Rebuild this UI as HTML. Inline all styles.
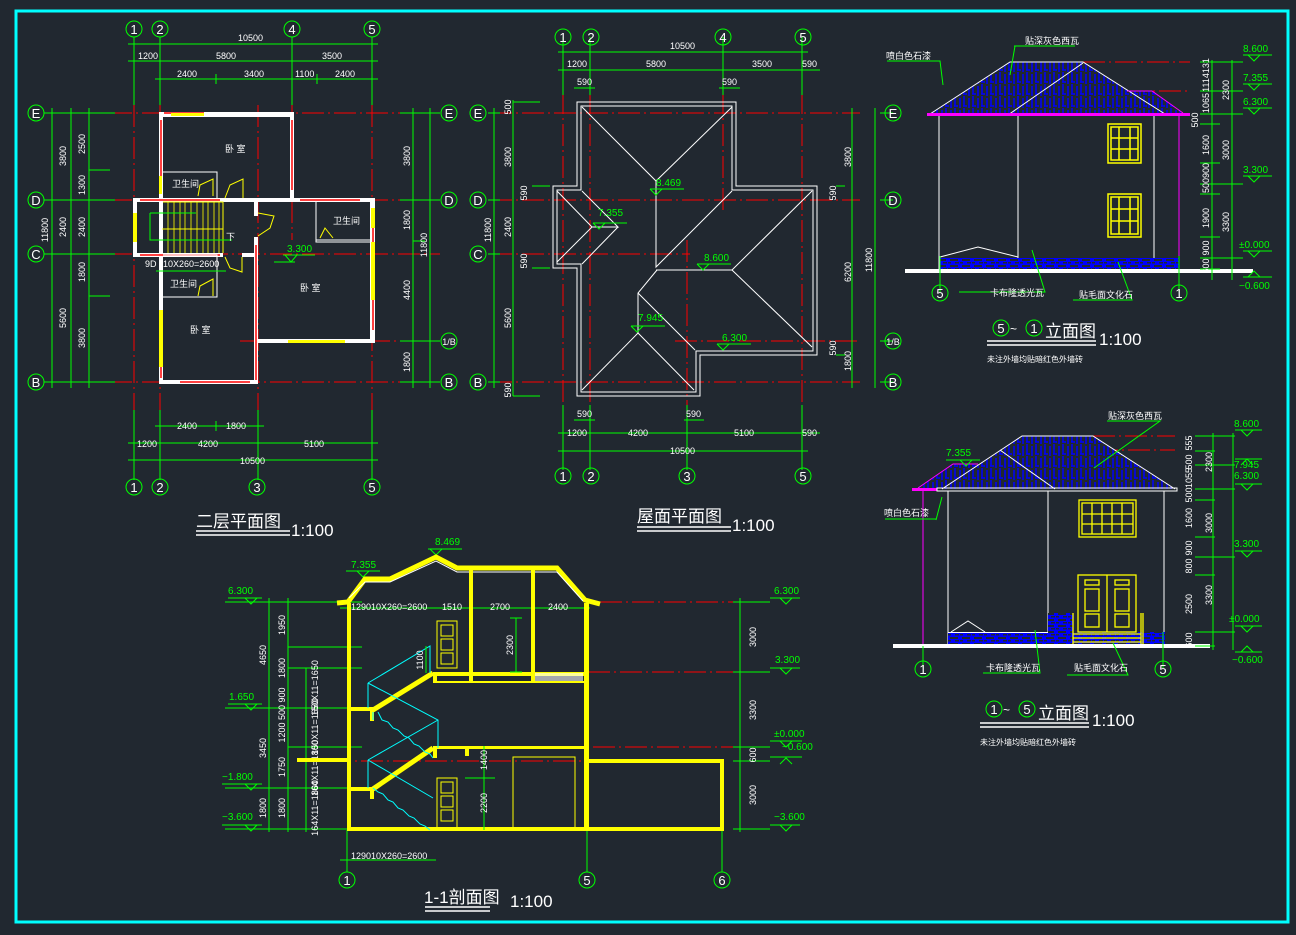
<!DOCTYPE html>
<html><head><meta charset="utf-8"><style>
html,body{margin:0;padding:0;background:#212830;}
svg{display:block}
text{font-family:"Liberation Sans","Noto Sans CJK SC",sans-serif;}
.g{stroke:#00ff00;stroke-width:1;fill:none}
.r{stroke:#ff0000;stroke-width:1;fill:none;stroke-dasharray:22 4 2 4}
.w{stroke:#fff;fill:none;stroke-width:1}
.ww{stroke:#fff;fill:#212830;stroke-width:1}
.y{stroke:#ffff00;fill:none}
.c{stroke:#00ffff;fill:none;stroke-width:1}
.t{fill:#fff;font-size:9px}
.tg{fill:#00ff00;font-size:10px}
.ax{fill:#fff;font-size:13px;text-anchor:middle;font-family:"Liberation Serif",serif}
</style></head><body>
<svg width="1296" height="935" viewBox="0 0 1296 935" xmlns="http://www.w3.org/2000/svg">
<defs>
<pattern id="tile" width="9" height="12" patternUnits="userSpaceOnUse"><rect width="9" height="12" fill="#212830"/><path d="M1 0V10M6 2V12M0 10H4" stroke="#0000ff" stroke-width="1.5"/></pattern>
<pattern id="brick" width="12" height="6" patternUnits="userSpaceOnUse"><rect width="12" height="6" fill="#0000ff"/><rect x="2" y="1" width="8" height="2" fill="#212830"/><rect x="0" y="4" width="3" height="1.5" fill="#212830"/><rect x="7" y="4" width="4" height="1.5" fill="#212830"/></pattern>
</defs>
<rect x="16" y="11" width="1272" height="911" fill="none" stroke="#00ffff" stroke-width="3"/>

<!-- ============ PLAN 1 (二层平面图) ============ -->
<g>
<!-- axes -->
<path class="r" d="M134 105V470M160 105V470M258 105V470M292 105V240M372 105V470"/>
<path class="r" d="M46 113H440M46 200H440M46 254H440M240 341H440M46 382H440"/>
<path class="g" d="M134 37V105M160 37V105M292 37V105M372 37V105M134 410V480M160 410V480M258 410V480M372 410V480"/>
<path class="g" d="M128 44H378M128 61H378M155 79H378M155 426H264M128 443H378M128 460H378"/>
<path class="g" d="M44 113H115M44 200H115M44 254H115M44 382H115M400 113H440M400 200H440M400 341H440M400 382H440"/>
<path class="g" d="M52 108V388M71 108V388M89 108V388M413 108V388M430 108V388"/>
<path class="g" d="M216 74V84M317 74V84M216 421V431M89 170H110M89 296H110M413 241H425"/>
<g class="tg" fill="#00ff00"></g>
<g class="t">
<text x="238" y="41">10500</text><text x="138" y="59">1200</text><text x="216" y="59">5800</text><text x="322" y="59">3500</text>
<text x="177" y="77">2400</text><text x="244" y="77">3400</text><text x="295" y="77">1100</text><text x="335" y="77">2400</text>
<text x="177" y="429">2400</text><text x="226" y="429">1800</text>
<text x="137" y="447">1200</text><text x="198" y="447">4200</text><text x="304" y="447">5100</text><text x="240" y="464">10500</text>
</g>
<g class="t" text-anchor="middle">
<text transform="translate(66,156) rotate(-90)">3800</text><text transform="translate(85,144) rotate(-90)">2500</text>
<text transform="translate(85,185) rotate(-90)">1300</text><text transform="translate(66,227) rotate(-90)">2400</text>
<text transform="translate(85,227) rotate(-90)">2400</text><text transform="translate(48,230) rotate(-90)">11800</text>
<text transform="translate(85,272) rotate(-90)">1800</text><text transform="translate(66,318) rotate(-90)">5600</text>
<text transform="translate(85,338) rotate(-90)">3800</text>
<text transform="translate(410,156) rotate(-90)">3800</text><text transform="translate(410,220) rotate(-90)">1800</text>
<text transform="translate(427,245) rotate(-90)">11800</text><text transform="translate(410,290) rotate(-90)">4400</text>
<text transform="translate(410,362) rotate(-90)">1800</text>
</g>
<!-- walls -->
<g fill="#fff">
<rect x="159" y="112" width="135" height="5"/><rect x="159" y="112" width="4" height="272"/>
<rect x="290" y="112" width="4" height="90"/><rect x="133" y="198" width="241" height="4"/>
<rect x="370" y="198" width="5" height="145"/><rect x="254" y="339" width="121" height="4"/>
<rect x="254" y="237" width="4" height="147"/><rect x="159" y="380" width="99" height="4"/>
<rect x="133" y="198" width="4" height="59"/><rect x="133" y="253" width="90" height="4"/>
<rect x="254" y="202" width="4" height="14"/><rect x="242" y="253" width="16" height="4"/>
</g>
<path d="M164 113H204M161 120V180M161 320V378M292 120V190M373 210V330M180 382H250M256 245V380M300 200H360M140 200H220M140 255H220" stroke="#ff0000" stroke-width="1.5"/>
<g fill="#ffff00"><rect x="171" y="113" width="33" height="3"/><rect x="159" y="310" width="4" height="57"/><rect x="133" y="213" width="4" height="29"/><rect x="371" y="242" width="4" height="58"/><rect x="371" y="208" width="4" height="20"/><rect x="288" y="340" width="57" height="3"/><rect x="159" y="176" width="3" height="18"/></g>
<path class="w" d="M163 172H217V198M163 255H217V297H163M316 202V242H371M316 240H371"/>
<g class="y"><path d="M163 202H223V253M162 229H223"/><path d="M168 202V253M174 202V253M180 202V253M185 202V253M191 202V253M197 202V253M203 202V253M208 202V253M214 202V253M219 202V253" stroke-width="0.8"/>
<path d="M198 196L200 185L213 179V196M198 296L200 286L213 279V296M225 198L230 185L243 179V198M225 257L230 268L242 272V257M258 213L274 216L270 228L258 236M320 238L325 228L333 238"/></g>
<path class="g" d="M150 213H196M150 213V240H232"/>
<text class="t" x="226" y="240">下</text>
<text class="t" x="145" y="267">9D</text><text class="t" x="163" y="267">10X260=2600</text>
<path class="g" d="M156 271H226"/>
<text class="tg" x="287" y="252">3.300</text><path class="g" d="M283 255H315M274 262H295M285 255L291 262L297 255"/>
<g class="t"><text x="225" y="152">卧  室</text><text x="172" y="187">卫生间</text><text x="333" y="224">卫生间</text><text x="170" y="287">卫生间</text><text x="300" y="291">卧  室</text><text x="190" y="333">卧  室</text></g>
<!-- axis circles -->
<g class="g"><circle cx="134" cy="29" r="8"/><circle cx="160" cy="29" r="8"/><circle cx="292" cy="29" r="8"/><circle cx="372" cy="29" r="8"/>
<circle cx="134" cy="487" r="8"/><circle cx="160" cy="487" r="8"/><circle cx="257" cy="487" r="8"/><circle cx="372" cy="487" r="8"/>
<circle cx="36" cy="113" r="8"/><circle cx="36" cy="200" r="8"/><circle cx="36" cy="254" r="8"/><circle cx="36" cy="382" r="8"/>
<circle cx="449" cy="113" r="8"/><circle cx="449" cy="200" r="8"/><circle cx="449" cy="341" r="8"/><circle cx="449" cy="382" r="8"/></g>
<g class="ax"><text x="134" y="34">1</text><text x="160" y="34">2</text><text x="292" y="34">4</text><text x="372" y="34">5</text>
<text x="134" y="492">1</text><text x="160" y="492">2</text><text x="257" y="492">3</text><text x="372" y="492">5</text>
<text x="36" y="118">E</text><text x="36" y="205">D</text><text x="36" y="259">C</text><text x="36" y="387">B</text>
<text x="449" y="118">E</text><text x="449" y="205">D</text><text x="449" y="345" font-size="9">1/B</text><text x="449" y="387">B</text></g>
<text x="196" y="527" fill="#fff" font-size="17">二层平面图</text><path d="M196 531H290M196 535H290" stroke="#fff" stroke-width="1.5"/>
<text x="291" y="536" fill="#fff" font-size="17">1:100</text>
</g>

<!-- ============ ROOF PLAN ============ -->
<g>
<path class="r" d="M563 92V470M590 92V470M687 240V470M723 92V210M802 92V470"/>
<path class="r" d="M490 113H860M490 200H860M490 254H690M675 341H860M490 382H860"/>
<path class="g" d="M563 37V95M590 37V95M723 37V95M802 37V95M563 405V470M590 405V470M687 405V470M802 405V470"/>
<path class="g" d="M558 52H808M558 70H820M574 88H595M719 88H740M574 420H595M684 420H704M558 433H820M558 451H808"/>
<path class="g" d="M488 113H500M488 200H500M488 254H500M488 382H500M880 113H893M880 200H893M880 341H893M880 382H893"/>
<path class="g" d="M494 108V388M513 100V396M852 108V388M875 108V388M513 102H540M513 396H540M532 186H550M532 268H550M836 186H845M836 355H845"/>
<g class="t"><text x="670" y="49">10500</text><text x="567" y="67">1200</text><text x="646" y="67">5800</text><text x="752" y="67">3500</text><text x="802" y="67">590</text>
<text x="577" y="85">590</text><text x="722" y="85">590</text><text x="577" y="417">590</text><text x="686" y="417">590</text>
<text x="567" y="436">1200</text><text x="628" y="436">4200</text><text x="734" y="436">5100</text><text x="802" y="436">590</text><text x="670" y="454">10500</text></g>
<g class="t" text-anchor="middle">
<text transform="translate(511,107) rotate(-90)">500</text><text transform="translate(511,157) rotate(-90)">3800</text>
<text transform="translate(527,193) rotate(-90)">590</text><text transform="translate(511,227) rotate(-90)">2400</text>
<text transform="translate(491,230) rotate(-90)">11800</text><text transform="translate(527,261) rotate(-90)">590</text>
<text transform="translate(511,318) rotate(-90)">5600</text><text transform="translate(511,390) rotate(-90)">590</text>
<text transform="translate(851,157) rotate(-90)">3800</text><text transform="translate(836,193) rotate(-90)">590</text>
<text transform="translate(851,272) rotate(-90)">6200</text><text transform="translate(872,260) rotate(-90)">11800</text>
<text transform="translate(836,348) rotate(-90)">590</text><text transform="translate(851,361) rotate(-90)">1800</text>
</g>
<path class="w" d="M577 102H736V186H817V355H700V396H577V268H553V186H577Z"/>
<path class="w" d="M581 106H732V190H813V351H696V392H581V264H557V190H581Z"/>
<path class="w" d="M582 107L656 181L732 107M656 181V267L732 191M656 270H732L812 191M732 270L812 347M657 270L638 293V333M638 293L695 350M638 333L582 390M638 333L694 390M557 191L592 227L557 262M592 227H618L582 191M618 227L582 264"/>
<g class="tg"><text x="656" y="186">8.469</text><text x="598" y="216">7.355</text><text x="704" y="261">8.600</text><text x="638" y="321">7.945</text><text x="722" y="341">6.300</text></g>
<path class="g" d="M650 189H684M650 189L656 195L662 189M593 223H627M593 223L599 229L605 223M697 264H731M697 264L703 270L709 264M631 326H665M631 326L637 332L643 326M717 344H751M717 344L723 350L729 344"/>
<g class="g"><circle cx="563" cy="37" r="8"/><circle cx="591" cy="37" r="8"/><circle cx="723" cy="37" r="8"/><circle cx="803" cy="37" r="8"/>
<circle cx="563" cy="476" r="8"/><circle cx="591" cy="476" r="8"/><circle cx="687" cy="476" r="8"/><circle cx="803" cy="476" r="8"/>
<circle cx="478" cy="113" r="8"/><circle cx="478" cy="200" r="8"/><circle cx="478" cy="254" r="8"/><circle cx="478" cy="382" r="8"/>
<circle cx="893" cy="113" r="8"/><circle cx="893" cy="200" r="8"/><circle cx="893" cy="341" r="8"/><circle cx="893" cy="382" r="8"/></g>
<g class="ax"><text x="563" y="42">1</text><text x="591" y="42">2</text><text x="723" y="42">4</text><text x="803" y="42">5</text>
<text x="563" y="481">1</text><text x="591" y="481">2</text><text x="687" y="481">3</text><text x="803" y="481">5</text>
<text x="478" y="118">E</text><text x="478" y="205">D</text><text x="478" y="259">C</text><text x="478" y="387">B</text>
<text x="893" y="118">E</text><text x="893" y="205">D</text><text x="893" y="345" font-size="9">1/B</text><text x="893" y="387">B</text></g>
<text x="637" y="522" fill="#fff" font-size="17">屋面平面图</text><path d="M637 527H731M637 531H731" stroke="#fff" stroke-width="1.5"/>
<text x="732" y="531" fill="#fff" font-size="17">1:100</text>
</g>

<!-- ============ SECTION ============ -->
<g>
<path class="r" d="M600 602H770M588 672H770M433 747H770M297 761H588"/>
<path d="M587 603V830" stroke="#ff0000" stroke-width="1"/>
<path class="g" d="M347 830V872M587 830V872M722 830V872M340 860H436M340 608H590"/>
<g class="g"><circle cx="347" cy="880" r="8"/><circle cx="587" cy="880" r="8"/><circle cx="722" cy="880" r="8"/></g>
<g class="ax"><text x="347" y="885">1</text><text x="587" y="885">5</text><text x="722" y="885">6</text></g>
<!-- left dims -->
<path class="g" d="M225 602H362M225 708H362M225 788H362M225 829H362M269 598V832M288 598V832M306 668V832M288 647H362M288 668H362M288 747H362M306 668H350"/>
<path class="g" d="M228 598H262M245 598L251 604L257 598M228 704H262M245 704L251 710L257 704M222 784H262M245 784L251 790L257 784M222 825H262M245 825L251 831L257 825"/>
<g class="tg"><text x="228" y="594">6.300</text><text x="229" y="700">1.650</text><text x="222" y="780">−1.800</text><text x="222" y="820">−3.600</text></g>
<g class="t" text-anchor="middle">
<text transform="translate(266,655) rotate(-90)">4650</text><text transform="translate(285,625) rotate(-90)">1950</text>
<text transform="translate(285,668) rotate(-90)">1800</text><text transform="translate(285,715) rotate(-90)">1200 500 900</text>
<text transform="translate(266,748) rotate(-90)">3450</text><text transform="translate(285,767) rotate(-90)">1750</text>
<text transform="translate(266,808) rotate(-90)">1800</text><text transform="translate(285,808) rotate(-90)">1800</text>
<text transform="translate(318,688) rotate(-90)">150X11=1650</text><text transform="translate(318,727) rotate(-90)">150X11=1650</text>
<text transform="translate(318,768) rotate(-90)">164X11=1800</text><text transform="translate(318,808) rotate(-90)">164X11=1800</text>
</g>
<!-- right dims -->
<path class="g" d="M733 602H770M733 672H770M733 747H770M733 761H770M733 829H770M740 598V832"/>
<path class="g" d="M770 598H800M780 598L786 604L792 598M770 668H800M780 668L786 674L792 668M770 741H802M780 741L786 747L792 741M770 757H802M780 764L786 758L792 764M770 825H800M780 825L786 831L792 825"/>
<g class="tg"><text x="774" y="594">6.300</text><text x="775" y="663">3.300</text><text x="774" y="737">±0.000</text><text x="782" y="750">−0.600</text><text x="774" y="820">−3.600</text></g>
<g class="t" text-anchor="middle"><text transform="translate(756,637) rotate(-90)">3000</text><text transform="translate(756,710) rotate(-90)">3300</text><text transform="translate(756,755) rotate(-90)">600</text><text transform="translate(756,795) rotate(-90)">3000</text></g>
<!-- top dims -->
<g class="t"><text x="351" y="610">1290</text><text x="371" y="610">10X260=2600</text><text x="442" y="610">1510</text><text x="490" y="610">2700</text><text x="548" y="610">2400</text>
<text x="351" y="859">1290</text><text x="371" y="859">10X260=2600</text></g>
<g class="tg"><text x="351" y="568">7.355</text><text x="435" y="545">8.469</text></g>
<path class="g" d="M346 571H380M357 571L363 577L369 571M428 549H462M430 549L436 555L442 549"/>
<!-- roof -->
<path d="M337 603L348 602L365 579H390L436 557L457 568H557L585 600L600 604" stroke="#ffff00" stroke-width="5" fill="none"/>
<path d="M349 598L365 582H390L436 561L457 572H557L583 601" stroke="#fff" stroke-width="1" fill="none"/>
<!-- walls -->
<g fill="#ffff00">
<rect x="347" y="603" width="4" height="228"/><rect x="584" y="603" width="5" height="228"/>
<rect x="348" y="827" width="375" height="4"/><rect x="720" y="760" width="4" height="71"/>
<rect x="587" y="759" width="137" height="4"/><rect x="297" y="758" width="52" height="4"/>
<rect x="433" y="672" width="155" height="4"/><rect x="433" y="681" width="155" height="2"/>
<rect x="433" y="746" width="155" height="3"/><rect x="469" y="567" width="4" height="115"/><rect x="531" y="567" width="4" height="115"/>
<rect x="351" y="707" width="22" height="4"/><rect x="370" y="707" width="4" height="14"/>
<rect x="351" y="787" width="22" height="4"/><rect x="370" y="787" width="4" height="12"/>
<rect x="433" y="672" width="4" height="11"/><rect x="433" y="746" width="4" height="12"/><rect x="465" y="746" width="4" height="10"/>
</g>
<rect x="535" y="673" width="48" height="8" fill="#fff" opacity="0.6"/>
<path d="M373 710L433 673M373 789L433 748" stroke="#ffff00" stroke-width="5"/>
<path class="c" d="M373 712V720M378 712L382 720L388 722L393 728L398 730L404 736L409 738L414 744L419 746L425 752L430 754L433 758M373 788L378 792L383 794L388 800L393 802L398 808L403 810L409 816L414 818L420 824L425 826L430 830"/>
<path class="c" d="M368 683L430 646V673M368 683V708M368 683L438 720V748M368 760L438 720M368 760V788M368 760L433 798"/>
<g class="y"><rect x="437" y="621" width="20" height="47"/><rect x="441" y="625" width="12" height="11"/><rect x="441" y="639" width="12" height="11"/><rect x="441" y="653" width="12" height="11"/>
<rect x="437" y="778" width="20" height="50"/><rect x="441" y="782" width="12" height="11"/><rect x="441" y="796" width="12" height="11"/><rect x="441" y="810" width="12" height="11"/>
<rect x="513" y="757" width="62" height="71"/></g>
<path class="g" d="M516 618V672M510 618H522M510 672H522M484 746V830M465 778H495M426 646V673"/>
<g class="t" text-anchor="middle"><text transform="translate(513,645) rotate(-90)">2300</text><text transform="translate(487,760) rotate(-90)">1400</text><text transform="translate(487,803) rotate(-90)">2200</text><text transform="translate(423,660) rotate(-90)">1100</text></g>
<text x="424" y="903" fill="#fff" font-size="17">1-1剖面图</text><path d="M425 907H490M425 911H490" stroke="#fff" stroke-width="1.5"/>
<text x="510" y="907" fill="#fff" font-size="17">1:100</text>
</g>

<!-- ============ ELEVATION 5~1 ============ -->
<g>
<path class="r" d="M1083 62H1190M1127 91H1190"/>
<polygon points="930,114 1010,62 1083,62 1165,114" fill="url(#tile)"/>
<polygon points="1083,62 1127,91 1152,91 1183,113 1150,114" fill="url(#tile)"/>
<path class="w" d="M930 114L1010 62H1083L1165 114M1008 115L1083 63"/>
<path d="M1127 91H1152L1183 113" stroke="#ff00ff" fill="none"/>
<rect x="927" y="113" width="263" height="3" fill="#ff00ff"/>
<path class="w" d="M939 116V272M1018 116V272M1154 116V272"/>
<path d="M1179 116V290" stroke="#ff00ff"/>
<rect x="940" y="258" width="239" height="11" fill="url(#brick)"/>
<path class="w" d="M940 257L978 247L1018 257"/>
<rect x="905" y="269" width="348" height="4" fill="#fff"/>
<g stroke="#ffff00" fill="none" stroke-width="1.5"><rect x="1108" y="124" width="33" height="39"/><rect x="1111" y="127" width="27" height="33"/><path d="M1119 127V160M1130 127V160M1111 138H1138M1111 149H1138"/>
<rect x="1108" y="194" width="33" height="43"/><rect x="1111" y="197" width="27" height="37"/><path d="M1119 197V234M1130 197V234M1111 209H1138M1111 221H1138"/></g>
<path class="g" d="M940 256V292M1179 256V292M887 61H940L943 85M1014 46H1075M1015 46L1010 75M959 292H1045L1032 250M1073 300H1132L1118 262"/>
<g class="g"><circle cx="940" cy="293" r="8"/><circle cx="1179" cy="293" r="8"/></g>
<g class="ax"><text x="940" y="298">5</text><text x="1179" y="298">1</text></g>
<g class="t" font-size="8"><text x="886" y="59">喷白色石漆</text><text x="1025" y="44">贴深灰色西瓦</text><text x="990" y="296">卡布隆透光瓦</text><text x="1079" y="298">贴毛面文化石</text></g>
<!-- right dims -->
<path class="g" d="M1212 60V280M1232 60V280M1200 62H1243M1200 91H1243M1200 114H1243M1200 124H1220M1200 163H1220M1200 184H1243M1200 194H1220M1200 237H1220M1200 258H1243M1200 269H1220"/>
<path class="g" d="M1243 55H1272M1248 55L1254 61L1260 55M1243 84H1272M1248 84L1254 90L1260 84M1243 108H1272M1248 108L1254 114L1260 108M1243 176H1272M1248 176L1254 182L1260 176M1243 251H1272M1248 251L1254 257L1260 251M1243 277H1272M1248 277L1254 271L1260 277"/>
<g class="tg"><text x="1243" y="52">8.600</text><text x="1243" y="81">7.355</text><text x="1243" y="105">6.300</text><text x="1243" y="173">3.300</text><text x="1239" y="248">±0.000</text><text x="1239" y="289">−0.600</text></g>
<g class="t" text-anchor="middle"><text transform="translate(1209,75) rotate(-90)">1114131</text><text transform="translate(1209,103) rotate(-90)">1065</text><text transform="translate(1229,90) rotate(-90)">2300</text>
<text transform="translate(1198,120) rotate(-90)">500</text><text transform="translate(1209,145) rotate(-90)">1600</text><text transform="translate(1229,150) rotate(-90)">3000</text>
<text transform="translate(1209,178) rotate(-90)">500900</text><text transform="translate(1209,218) rotate(-90)">1900</text><text transform="translate(1229,222) rotate(-90)">3300</text>
<text transform="translate(1209,248) rotate(-90)">900</text><text transform="translate(1209,266) rotate(-90)">600</text></g>
<g class="g"><circle cx="1001" cy="328" r="8"/><circle cx="1034" cy="328" r="8"/></g>
<g class="ax"><text x="1001" y="333">5</text><text x="1034" y="333">1</text></g>
<text x="1010" y="333" fill="#fff" font-size="12">~</text>
<text x="1045" y="337" fill="#fff" font-size="17">立面图</text>
<path d="M987 341H1096M987 345H1096" stroke="#fff" stroke-width="1.5"/>
<text x="1099" y="345" fill="#fff" font-size="17">1:100</text>
<text x="987" y="362" fill="#fff" font-size="8">未注外墙均贴暗红色外墙砖</text>
</g>

<!-- ============ ELEVATION 1~5 ============ -->
<g>
<path class="r" d="M1093 436H1175M1000 450H1175"/>
<polygon points="942,489 1022,436 1093,436 1175,489" fill="url(#tile)"/>
<polygon points="918,488 953,464 978,464 960,489" fill="url(#tile)"/>
<path class="w" d="M942 489L1022 436H1093L1175 489M1000 450L1055 489"/>
<path d="M918 488L953 464H978" stroke="#ff00ff" fill="none"/>
<rect x="912" y="488" width="25" height="3" fill="#ff00ff"/>
<rect x="937" y="488" width="240" height="3" fill="none" stroke="#fff"/>
<path d="M923 491V668" stroke="#ff00ff"/>
<path class="w" d="M948 491V646M1048 491V632M1164 491V646"/>
<rect x="948" y="632" width="217" height="13" fill="url(#brick)"/>
<rect x="1048" y="613" width="25" height="33" fill="url(#brick)"/>
<rect x="948" y="632" width="100" height="1" fill="#fff"/>
<path class="w" d="M951 632L968 621L985 632"/>
<g stroke="#ffff00" fill="none" stroke-width="1.3"><rect x="1079" y="500" width="57" height="37"/><rect x="1082" y="503" width="51" height="31"/><path d="M1092 503V534M1102 503V534M1112 503V534M1122 503V534M1082 514H1133M1082 524H1133"/>
<rect x="1078" y="575" width="58" height="57"/><path d="M1107 575V632"/><rect x="1085" y="580" width="14" height="5"/><rect x="1115" y="580" width="14" height="5"/><rect x="1085" y="589" width="14" height="22"/><rect x="1115" y="589" width="14" height="22"/><rect x="1085" y="614" width="14" height="13"/><rect x="1115" y="614" width="14" height="13"/>
<path d="M1073 634H1141M1073 638H1141M1073 642H1141M1141 613V646M1143 613V646M1073 613V646"/></g>
<rect x="893" y="644" width="317" height="4" fill="#fff"/>
<path class="g" d="M923 646V668M1163 632V668M1107 421H1160L1094 468M936 519H885M936 520L942 497M983 673H1040L1035 630M1067 675H1128L1113 643M946 460H980"/>
<g class="g"><circle cx="923" cy="669" r="8"/><circle cx="1163" cy="669" r="8"/></g>
<g class="ax"><text x="923" y="674">1</text><text x="1163" y="674">5</text></g>
<g class="t" font-size="8"><text x="1108" y="419">贴深灰色西瓦</text><text x="884" y="516">喷白色石漆</text><text x="986" y="671">卡布隆透光瓦</text><text x="1074" y="671">贴毛面文化石</text></g>
<text class="tg" x="946" y="456">7.355</text><path class="g" d="M960 460L966 466L972 460"/>
<path class="g" d="M1195 436H1235M1195 451H1215M1195 465H1235M1195 489H1235M1195 500H1215M1195 537H1215M1195 557H1235M1195 575H1215M1195 632H1235M1195 646H1215M1213 433V650M1233 433V650"/>
<path class="g" d="M1235 430H1262M1241 430L1247 436L1253 430M1235 459H1262M1241 465L1247 459L1253 465M1235 484H1262M1241 484L1247 490L1253 484M1235 551H1262M1241 551L1247 557L1253 551M1235 626H1262M1241 626L1247 632L1253 626M1235 652H1262M1241 652L1247 646L1253 652"/>
<g class="tg"><text x="1234" y="427">8.600</text><text x="1234" y="468">7.945</text><text x="1234" y="479">6.300</text><text x="1234" y="547">3.300</text><text x="1229" y="622">±0.000</text><text x="1232" y="663">−0.600</text></g>
<g class="t" text-anchor="middle"><text transform="translate(1192,443) rotate(-90)">555</text><text transform="translate(1192,462) rotate(-90)">500</text><text transform="translate(1192,478) rotate(-90)">1055</text><text transform="translate(1212,462) rotate(-90)">2300</text>
<text transform="translate(1192,495) rotate(-90)">500</text><text transform="translate(1192,518) rotate(-90)">1600</text><text transform="translate(1212,523) rotate(-90)">3000</text>
<text transform="translate(1192,548) rotate(-90)">900</text><text transform="translate(1192,566) rotate(-90)">800</text><text transform="translate(1192,604) rotate(-90)">2500</text><text transform="translate(1212,595) rotate(-90)">3300</text><text transform="translate(1192,640) rotate(-90)">600</text></g>
<g class="g"><circle cx="994" cy="709" r="8"/><circle cx="1027" cy="709" r="8"/></g>
<g class="ax"><text x="994" y="714">1</text><text x="1027" y="714">5</text></g>
<text x="1003" y="714" fill="#fff" font-size="12">~</text>
<text x="1038" y="719" fill="#fff" font-size="17">立面图</text>
<path d="M980 723H1089M980 727H1089" stroke="#fff" stroke-width="1.5"/>
<text x="1092" y="726" fill="#fff" font-size="17">1:100</text>
<text x="980" y="745" fill="#fff" font-size="8">未注外墙均贴暗红色外墙砖</text>
</g>
</svg>
</body></html>
